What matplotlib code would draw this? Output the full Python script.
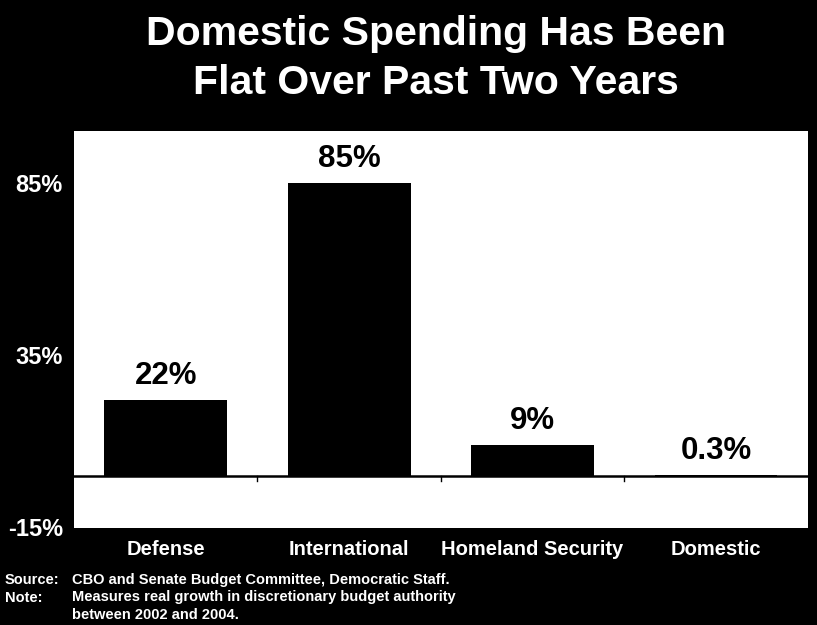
import matplotlib.pyplot as plt
import numpy as np

# Real growth in discretionary budget authority, 2002-2004
categories = ['Defense', 'International', 'Homeland Security', 'Domestic']
growth = [22, 85, 9, 0.3]
value_labels = ['22%', '85%', '9%', '0.3%']
y_ticks = [-15, 35, 85]
y_tick_labels = ['-15%', '35%', '85%']

plt.rcParams['font.family'] = ['Liberation Sans', 'DejaVu Sans']

fig = plt.figure(figsize=(8.17, 6.25), dpi=100, facecolor='black')
ax = fig.add_axes([0.0906, 0.156, 0.898, 0.634])
ax.set_facecolor('white')

x = np.arange(len(categories))
bars = ax.bar(x, growth, width=0.67, color='black', zorder=2)

# value labels above each bar
for xi, val, lab in zip(x, growth, value_labels):
    ax.text(xi, val + 2.5, lab, ha='center', va='bottom',
            fontsize=22.5, fontweight='bold', color='black')

# zero line with small separators between the groups
ax.axhline(0, color='black', lw=1.8, zorder=3)
for b in [0.5, 1.5, 2.5]:
    ax.plot([b, b], [0, -1.6], color='black', lw=1, zorder=3)

ax.set_xlim(-0.5, 3.5)
ax.set_ylim(-15, 100)
ax.set_yticks(y_ticks)
ax.set_yticklabels(y_tick_labels, fontsize=17, fontweight='bold', color='white')
ax.set_xticks(x)
ax.set_xticklabels(categories, fontsize=14.5, fontweight='bold', color='white')
ax.tick_params(axis='both', length=0)
ax.tick_params(axis='y', pad=8)
ax.tick_params(axis='x', pad=9)
for s in ax.spines.values():
    s.set_visible(False)

fig.text(0.534, 0.945, 'Domestic Spending Has Been', ha='center', va='center',
         fontsize=29.5, fontweight='bold', color='white')
fig.text(0.534, 0.868, 'Flat Over Past Two Years', ha='center', va='center',
         fontsize=29.5, fontweight='bold', color='white')

fig.text(0.006, 0.072, 'Source:', fontsize=10.5, fontweight='bold', color='white', va='center')
fig.text(0.088, 0.072, 'CBO and Senate Budget Committee, Democratic Staff.',
         fontsize=10.5, fontweight='bold', color='white', va='center')
fig.text(0.006, 0.044, 'Note:', fontsize=10.5, fontweight='bold', color='white', va='center')
fig.text(0.088, 0.044, 'Measures real growth in discretionary budget authority',
         fontsize=10.5, fontweight='bold', color='white', va='center')
fig.text(0.088, 0.016, 'between 2002 and 2004.',
         fontsize=10.5, fontweight='bold', color='white', va='center')

fig.savefig('out.png', dpi=100, facecolor='black')
